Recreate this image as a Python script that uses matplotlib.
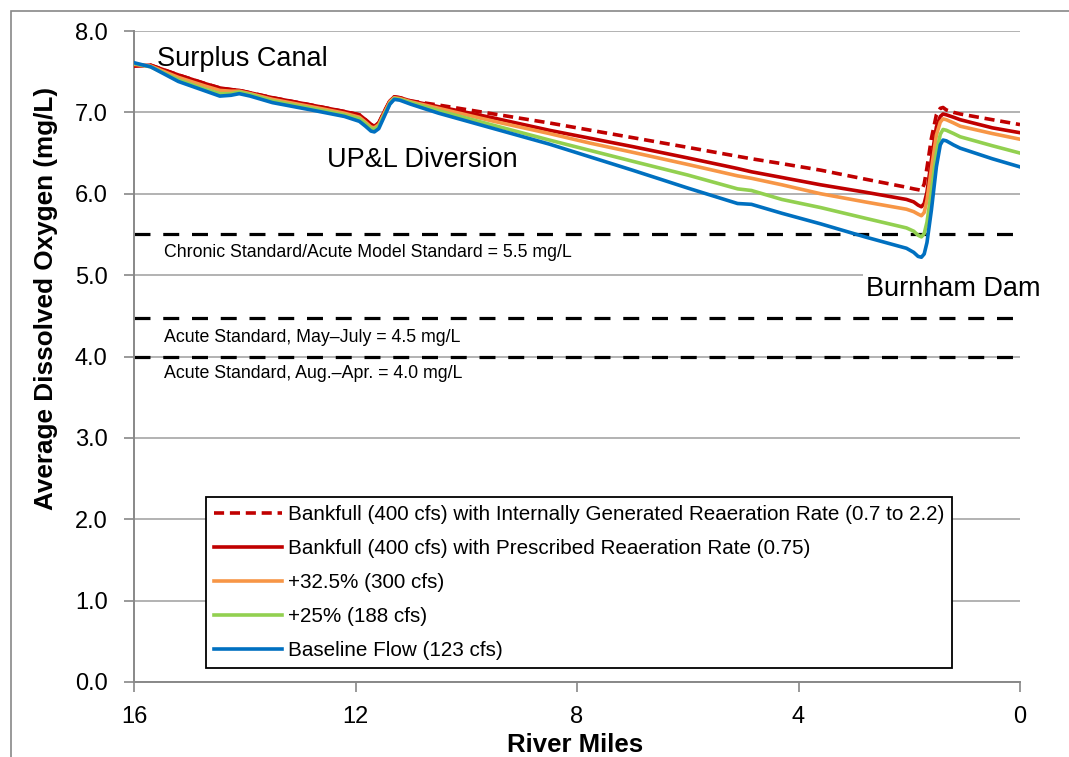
import matplotlib
matplotlib.use("Agg")
import matplotlib.pyplot as plt
from matplotlib.patches import Rectangle

plt.rcParams['font.family'] = ['Liberation Sans', 'DejaVu Sans']

# river miles (shared by all runs)
miles = [16.0, 15.7, 15.2, 14.7, 14.45, 14.25, 14.1, 13.9, 13.5, 12.8, 12.2, 11.93,
         11.82, 11.72, 11.66, 11.58, 11.48, 11.38, 11.3, 11.2, 11.0, 10.5, 9.5, 8.5,
         7.75, 7.0, 6.0, 5.1, 4.85, 4.3, 3.6, 2.8, 2.05, 1.92, 1.84, 1.78, 1.73, 1.68,
         1.60, 1.51, 1.44, 1.39, 1.33, 1.2, 1.08, 0.5, 0.0]

baseline = [7.61, 7.56, 7.38, 7.26, 7.20, 7.21, 7.23, 7.20, 7.12, 7.03, 6.95, 6.89,
            6.83, 6.77, 6.76, 6.80, 6.95, 7.10, 7.16, 7.15, 7.10, 6.99, 6.80, 6.61,
            6.45, 6.29, 6.07, 5.88, 5.87, 5.76, 5.63, 5.47, 5.33, 5.28, 5.23, 5.22, 5.26, 5.40,
            5.80, 6.33, 6.60, 6.66, 6.65, 6.60, 6.56, 6.43, 6.33]

plus25 = [7.60, 7.56, 7.40, 7.28, 7.23, 7.23, 7.25, 7.22, 7.14, 7.05, 6.97, 6.92,
          6.86, 6.80, 6.79, 6.83, 6.97, 7.11, 7.17, 7.16, 7.12, 7.02, 6.84, 6.66,
          6.53, 6.40, 6.23, 6.06, 6.04, 5.93, 5.83, 5.70, 5.58, 5.54, 5.49, 5.47, 5.51, 5.65,
          6.03, 6.50, 6.73, 6.79, 6.78, 6.74, 6.70, 6.59, 6.50]

plus325 = [7.59, 7.57, 7.43, 7.32, 7.27, 7.26, 7.26, 7.23, 7.16, 7.07, 6.99, 6.94,
           6.88, 6.82, 6.81, 6.85, 6.99, 7.13, 7.18, 7.17, 7.13, 7.05, 6.89, 6.74,
           6.62, 6.51, 6.36, 6.22, 6.19, 6.11, 6.00, 5.90, 5.81, 5.78, 5.75, 5.73, 5.77, 5.92,
           6.30, 6.72, 6.88, 6.92, 6.91, 6.87, 6.83, 6.74, 6.67]

bankfull = [7.57, 7.58, 7.46, 7.35, 7.30, 7.28, 7.27, 7.24, 7.18, 7.09, 7.01, 6.97,
            6.91, 6.85, 6.83, 6.87, 7.01, 7.14, 7.19, 7.18, 7.14, 7.07, 6.93, 6.78,
            6.68, 6.58, 6.44, 6.31, 6.27, 6.20, 6.11, 6.02, 5.93, 5.90, 5.86, 5.84, 5.88, 6.02,
            6.42, 6.82, 6.95, 6.98, 6.97, 6.94, 6.91, 6.81, 6.75]

bankfull_int = [7.57, 7.58, 7.46, 7.35, 7.30, 7.28, 7.27, 7.24, 7.18, 7.09, 7.01, 6.97,
                6.91, 6.85, 6.83, 6.87, 7.01, 7.14, 7.19, 7.18, 7.14, 7.09, 6.98, 6.87,
                6.78, 6.69, 6.57, 6.46, 6.43, 6.37, 6.29, 6.18, 6.08, 6.06, 6.05, 6.04, 6.12, 6.32,
                6.68, 6.97, 7.05, 7.06, 7.03, 7.00, 6.98, 6.91, 6.85]

standards = [5.5, 4.47, 4.0]
standard_labels = ["Chronic Standard/Acute Model Standard = 5.5 mg/L",
                   "Acute Standard, May\u2013July = 4.5 mg/L",
                   "Acute Standard, Aug.\u2013Apr. = 4.0 mg/L"]
standard_label_y = [5.22, 4.18, 3.73]

fig = plt.figure(figsize=(10.69, 7.57), dpi=100)
ax = fig.add_axes([134/1069, 1 - 682/757, 886/1069, 651/757])

grey = '#888888'

# outer frame of the chart area
fig.patches.append(Rectangle((11/1069, -0.1), 1.2, 1 - 11/757 + 0.1, transform=fig.transFigure,
                             fill=False, edgecolor=grey, linewidth=1.2))

for s, lab, ly in zip(standards, standard_labels, standard_label_y):
    ax.plot([16, 0.05], [s, s], color='black', linewidth=2.3, dashes=(5, 4), zorder=2)
    ax.text(15.46, ly, lab, fontsize=12.8, ha='left', va='baseline', zorder=3)

lw = 2.6
ax.plot(miles, bankfull_int, color='#C00000', linewidth=lw, dashes=(2.8, 1.6),
        label='Bankfull (400 cfs) with Internally Generated Reaeration Rate (0.7 to 2.2)', zorder=4)
ax.plot(miles, bankfull, color='#C00000', linewidth=lw,
        label='Bankfull (400 cfs) with Prescribed Reaeration Rate (0.75)', zorder=5)
ax.plot(miles, plus325, color='#F79646', linewidth=lw, label='+32.5% (300 cfs)', zorder=6)
ax.plot(miles, plus25, color='#92D050', linewidth=lw, label='+25% (188 cfs)', zorder=7)
ax.plot(miles, baseline, color='#0070C0', linewidth=lw, label='Baseline Flow (123 cfs)', zorder=8)

ax.text(15.58, 7.57, 'Surplus Canal', fontsize=19.5, ha='left', va='baseline', zorder=9)
ax.text(12.51, 6.33, 'UP&L Diversion', fontsize=19.5, ha='left', va='baseline', zorder=9)
ax.text(2.78, 4.74, 'Burnham Dam', fontsize=19.5, ha='left', va='baseline', zorder=9,
        bbox=dict(facecolor='white', edgecolor='none', pad=2))

ax.set_xlim(16, 0)
ax.set_ylim(0, 8)
ax.set_xticks([16, 12, 8, 4, 0])
ax.set_xticklabels(['16', '12', '8', '4', '0'])
ax.set_yticks(range(0, 9))
ax.set_yticklabels([f'{v:.1f}' for v in range(0, 9)])
ax.tick_params(axis='both', labelsize=17, color=grey, width=1.2, length=7, direction='out')
ax.tick_params(axis='y', pad=12)
ax.tick_params(axis='x', pad=10)

ax.grid(axis='y', color='#A6A6A6', linewidth=1.2, zorder=0)
ax.set_axisbelow(True)
for side in ['top', 'right']:
    ax.spines[side].set_visible(False)
for side in ['left', 'bottom']:
    ax.spines[side].set_color(grey)
    ax.spines[side].set_linewidth(1.4)

fig.text(575/1069, 1 - 745/757, 'River Miles', fontsize=18.5, fontweight='bold',
         ha='center', va='center')
fig.text(46/1069, 1 - 298/757, 'Average Dissolved Oxygen (mg/L)', fontsize=18.8,
         fontweight='bold', ha='center', va='center', rotation=90)

leg = ax.legend(loc='lower left', bbox_to_anchor=(72/886, 14/651), borderaxespad=0,
                fontsize=14.85, frameon=True, fancybox=False, framealpha=1, handlelength=3.3,
                handletextpad=0.3, labelspacing=0.73, borderpad=0.38)
leg.get_frame().set_edgecolor('black')
leg.get_frame().set_linewidth(1.3)
leg.set_zorder(10)

fig.savefig('out.png', dpi=100)
